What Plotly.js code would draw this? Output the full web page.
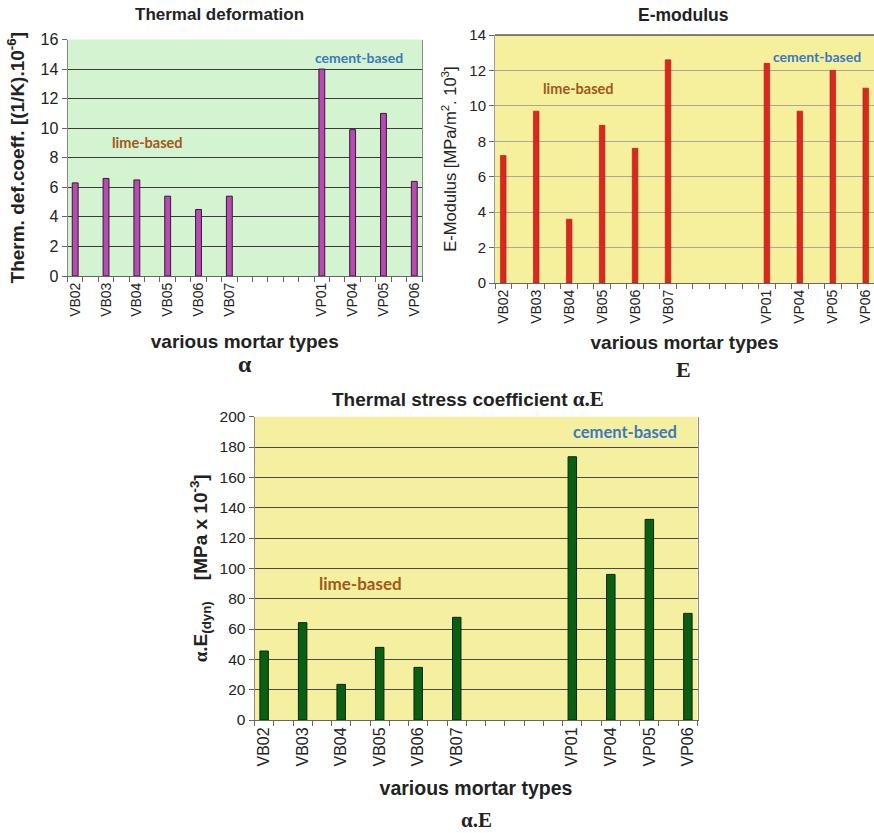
<!DOCTYPE html>
<html>
<head>
<meta charset="utf-8">
<script src="https://cdn.plot.ly/plotly-3.0.1.min.js"></script>
<style>html,body{margin:0;padding:0;background:#fff;}#chart{width:874px;height:833px;}</style>
</head>
<body>
<div id="chart"></div>
<script>
// ---- data ----
const categories = ['VB02','VB03','VB04','VB05','VB06','VB07','','','VP01','VP04','VP05','VP06'];
const thermalDeformation = [6.3, 6.6, 6.5, 5.4, 4.5, 5.4, null, null, 14.0, 9.9, 11.0, 6.4];
const eModulus = [7.2, 9.7, 3.6, 8.9, 7.6, 12.6, null, null, 12.4, 9.7, 12.0, 11.0];
const thermalStress = [45.5, 64.2, 23.5, 47.9, 34.7, 67.7, null, null, 173.6, 96.0, 132.3, 70.3];
const groupLabels = ['lime-based', 'cement-based'];

// ---- helpers ----
const slots = categories.map((c, i) => i);
const labelSlots = slots.filter(i => categories[i] !== '');
const labelText = labelSlots.map(i => categories[i]);
const ARIAL = 'Liberation Sans, Arial, sans-serif';
const SERIF = 'Liberation Serif, Times New Roman, serif';
const CAL = 'Lato, Open Sans, sans-serif';

function xAxis(domain, anchor, tickSize, title, titleSize, standoff) {
  return {
    domain: domain, anchor: anchor, type: 'linear',
    range: [-0.25, categories.length - 0.75],
    tickmode: 'array', tickvals: labelSlots, ticktext: labelText,
    tickangle: -90, ticks: '', showgrid: false, zeroline: false,
    tickfont: {family: ARIAL, size: tickSize, color: '#222'},
    minor: {tickmode: 'linear', tick0: -0.25, dtick: 0.5, ticks: 'outside', ticklen: 5, tickcolor: '#666', showgrid: false},
    showline: true, linecolor: '#666', linewidth: 1,
    title: {text: title, font: {family: ARIAL, size: titleSize, color: '#222'}, standoff: standoff},
    automargin: false, fixedrange: true
  };
}
function yAxis(domain, anchor, range, dtick, tickSize, gridColor, title, titleFont, standoff, lineColor) {
  return {
    domain: domain, anchor: anchor, range: range, dtick: dtick, tick0: 0,
    ticks: 'outside', ticklen: 5, tickcolor: '#666',
    tickfont: {family: ARIAL, size: tickSize, color: '#222'},
    showgrid: true, gridcolor: gridColor, gridwidth: 1, zeroline: false,
    showline: true, linecolor: lineColor, mirror: true, linewidth: 1,
    title: {text: title, font: titleFont, standoff: standoff},
    automargin: false, fixedrange: true
  };
}

const W = 874, H = 833;
const px = v => v / W, py = v => 1 - v / H;

const traces = [
  {type: 'bar', x: slots, y: thermalDeformation, xaxis: 'x', yaxis: 'y', width: 0.19,
   marker: {color: '#b64bb0', line: {color: '#3a153a', width: 1}}, hoverinfo: 'y', showlegend: false},
  {type: 'bar', x: slots, y: eModulus, xaxis: 'x2', yaxis: 'y2', width: 0.17,
   marker: {color: '#d9281e', line: {color: '#b01810', width: 0.6}}, hoverinfo: 'y', showlegend: false},
  {type: 'bar', x: slots, y: thermalStress, xaxis: 'x3', yaxis: 'y3', width: 0.22,
   marker: {color: '#0b5f13', line: {color: '#0d260d', width: 1}}, hoverinfo: 'y', showlegend: false}
];

const d1x = [px(67.5), px(422)], d1y = [py(276), py(39.5)];
const d2x = [px(495), px(874)], d2y = [py(283), py(35)];
const d3x = [px(254.5), px(697.5)], d3y = [py(720), py(416.7)];

const layout = {
  width: W, height: H,
  margin: {l: 0, r: 0, t: 0, b: 0},
  paper_bgcolor: '#ffffff', plot_bgcolor: 'rgba(0,0,0,0)',
  bargap: 0,
  xaxis: xAxis(d1x, 'y', 14, '<b>various mortar types</b>', 19, 18),
  yaxis: yAxis(d1y, 'x', [0, 16], 2, 16, '#3a3a3a',
    '<b>Therm. def.coeff. [(1/K).10<sup>-6</sup>]</b>', {family: ARIAL, size: 19, color: '#222'}, 10, '#8a8a8a'),
  xaxis2: xAxis(d2x, 'y2', 14, '<b>various mortar types</b>', 19, 12),
  yaxis2: yAxis(d2y, 'x2', [0, 14], 2, 15, '#a9a89a',
    'E-Modulus [MPa/m<sup>2</sup>. 10<sup>3</sup>]', {family: ARIAL, size: 16.5, color: '#222'}, 8, '#9a9a9a'),
  xaxis3: xAxis(d3x, 'y3', 16, '<b>various mortar types</b>', 19.5, 15),
  yaxis3: yAxis(d3y, 'x3', [0, 200], 20, 15.5, '#4a4a4a',
    '<b><span style="font-family:Liberation Serif">α</span>.E<sub>(dyn)</sub>\u00a0\u00a0\u00a0\u00a0[MPa x 10<sup>-3</sup>]</b>', {family: ARIAL, size: 19, color: '#222'}, 6, '#8a8a8a'),
  shapes: [
    {type: 'rect', xref: 'x domain', yref: 'y domain', x0: 0, x1: 1, y0: 0, y1: 1, fillcolor: '#d4f3d1', line: {width: 0}, layer: 'below'},
    {type: 'rect', xref: 'x2 domain', yref: 'y2 domain', x0: 0, x1: 1, y0: 0, y1: 1, fillcolor: '#f6f09d', line: {width: 0}, layer: 'below'},
    {type: 'rect', xref: 'x3 domain', yref: 'y3 domain', x0: 0, x1: 1, y0: 0, y1: 1, fillcolor: '#f5f0a0', line: {width: 0}, layer: 'below'},
    {type: 'line', xref: 'x2 domain', yref: 'y2 domain', x0: 0, x1: 1, y0: 1, y1: 1, line: {color: '#555', width: 1.5}}
  ],
  annotations: [
    // chart titles
    {xref: 'paper', yref: 'paper', x: px(219), y: py(14), text: '<b>Thermal deformation</b>', showarrow: false,
     font: {family: ARIAL, size: 17, color: '#222'}, xanchor: 'center', yanchor: 'middle'},
    {xref: 'paper', yref: 'paper', x: px(683), y: py(15), text: '<b>E-modulus</b>', showarrow: false,
     font: {family: ARIAL, size: 17.5, color: '#222'}, xanchor: 'center', yanchor: 'middle'},
    {xref: 'paper', yref: 'paper', x: px(468), y: py(399), text: '<b>Thermal stress coefficient <span style="font-family:Liberation Serif;font-size:21px">α.E</span></b>', showarrow: false,
     font: {family: ARIAL, size: 19, color: '#222'}, xanchor: 'center', yanchor: 'middle'},
    // bottom symbols
    {xref: 'paper', yref: 'paper', x: px(245), y: py(364), text: '<b>α</b>', showarrow: false,
     font: {family: SERIF, size: 24, color: '#222'}, xanchor: 'center', yanchor: 'middle'},
    {xref: 'paper', yref: 'paper', x: px(683), y: py(370), text: '<b>E</b>', showarrow: false,
     font: {family: SERIF, size: 22, color: '#222'}, xanchor: 'center', yanchor: 'middle'},
    {xref: 'paper', yref: 'paper', x: px(476), y: py(820), text: '<b>α.E</b>', showarrow: false,
     font: {family: SERIF, size: 21, color: '#222'}, xanchor: 'center', yanchor: 'middle'},
    // group labels
    {xref: 'x domain', yref: 'y domain', x: (147 - 67.5) / (422 - 67.5), y: (276 - 142) / (276 - 39.5), text: '<b>' + groupLabels[0] + '</b>', showarrow: false,
     font: {family: CAL, size: 14.5, color: '#a3561d'}, xanchor: 'center', yanchor: 'middle'},
    {xref: 'x domain', yref: 'y domain', x: (359 - 67.5) / (422 - 67.5), y: (276 - 58) / (276 - 39.5), text: '<b>' + groupLabels[1] + '</b>', showarrow: false,
     font: {family: CAL, size: 14, color: '#3a78c0'}, xanchor: 'center', yanchor: 'middle'},
    {xref: 'x2 domain', yref: 'y2 domain', x: (578 - 495) / (874 - 495), y: (283 - 89) / (283 - 35), text: '<b>' + groupLabels[0] + '</b>', showarrow: false,
     font: {family: CAL, size: 14.5, color: '#a3561d'}, xanchor: 'center', yanchor: 'middle'},
    {xref: 'x2 domain', yref: 'y2 domain', x: (817 - 495) / (874 - 495), y: (283 - 57) / (283 - 35), text: '<b>' + groupLabels[1] + '</b>', showarrow: false,
     font: {family: CAL, size: 14, color: '#3a78c0'}, xanchor: 'center', yanchor: 'middle'},
    {xref: 'x3 domain', yref: 'y3 domain', x: (360 - 254.5) / (697.5 - 254.5), y: (720 - 583) / (720 - 416.7), text: '<b>' + groupLabels[0] + '</b>', showarrow: false,
     font: {family: CAL, size: 17, color: '#a3561d'}, xanchor: 'center', yanchor: 'middle'},
    {xref: 'x3 domain', yref: 'y3 domain', x: (625 - 254.5) / (697.5 - 254.5), y: (720 - 432) / (720 - 416.7), text: '<b>' + groupLabels[1] + '</b>', showarrow: false,
     font: {family: CAL, size: 16.5, color: '#3a78c0'}, xanchor: 'center', yanchor: 'middle'}
  ]
};

Plotly.newPlot('chart', traces, layout, {staticPlot: true, displayModeBar: false});
</script>
</body>
</html>
